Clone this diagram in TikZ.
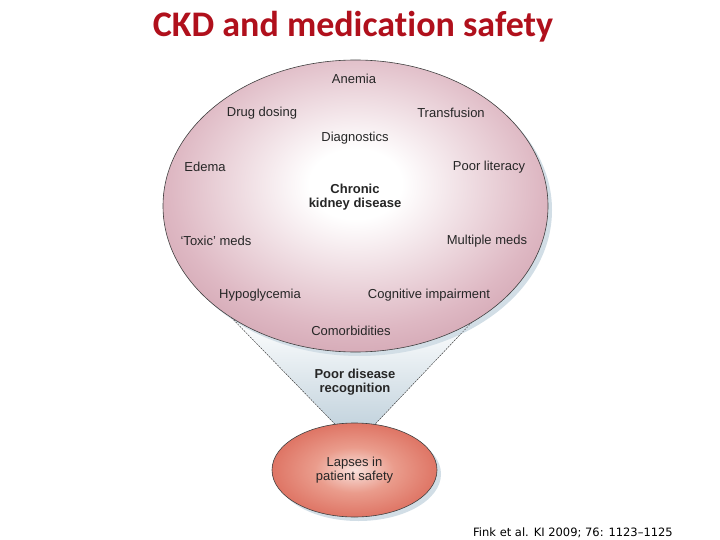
\documentclass[tikz,border=0pt]{standalone}
\usepackage{fontspec}
\setmainfont{Liberation Sans}
\newfontfamily\titlefont[Ligatures=NoCommon]{Carlito}
\newfontfamily\citefont{DejaVu Sans}
\usetikzlibrary{shapes.geometric,shadows,backgrounds}

\definecolor{titlered}{HTML}{B0101C}
\definecolor{ckdrim}{HTML}{A8667A}
\definecolor{ckdouter}{HTML}{C08898}
\definecolor{ckdmid}{HTML}{DEB8C3}
\definecolor{lapserim}{HTML}{CC4B3C}
\definecolor{lapseouter}{HTML}{DA6656}
\definecolor{lapsemid}{HTML}{EA9C8C}
\definecolor{shadowblue}{HTML}{D2DEE6}
\definecolor{funnelblue}{HTML}{C4D4DE}
\definecolor{inktext}{HTML}{262626}

\pgfdeclareradialshading{ckdshade}{\pgfpoint{0bp}{4bp}}{color(0bp)=(white); color(6bp)=(white); color(24bp)=(ckdmid); color(40bp)=(ckdouter); color(50bp)=(ckdrim); color(100bp)=(ckdrim)}
\pgfdeclareradialshading{lapseshade}{\pgfpoint{0bp}{0bp}}{color(0bp)=(white!70!lapsemid); color(12bp)=(lapsemid); color(30bp)=(lapseouter); color(50bp)=(lapserim); color(100bp)=(lapserim)}

\begin{document}
\begin{tikzpicture}[x=1pt,y=-1pt,
  factor/.style={font=\fontsize{13}{14}\selectfont, text=inktext, align=center},
  hub/.style={font=\fontsize{13}{14}\selectfont\bfseries, text=inktext, align=center},
  bubble/.style={ellipse, draw=black!75, line width=0.6pt, inner sep=0pt, outer sep=0pt,
    general shadow={fill=shadowblue, shadow xshift=4pt, shadow yshift=-4pt}},
  funnel/.style={dash pattern=on 1.5pt off 1.5pt, black!70, line width=0.5pt}]
\useasboundingbox (0,0) rectangle (720,540);
\node[font=\titlefont\fontsize{36}{40}\selectfont\bfseries, text=titlered] (title) at (353,27) {CKD and medication safety};

% the two bubbles
\node[bubble, shading=ckdshade, minimum width=385pt, minimum height=292pt] (ckd) at (355.5,206) {};
\node[bubble, shading=lapseshade, minimum width=165pt, minimum height=94pt, factor] (lapse) at (354.5,470) {Lapses in\\patient safety};

% funnel between them
\begin{scope}[on background layer]
\fill[top color=white, bottom color=funnelblue] (ckd.222) -- (lapse.113) -- (lapse.66) -- (ckd.315) -- cycle;
\end{scope}
\draw[funnel] (ckd.222) -- (lapse.113);
\draw[funnel] (ckd.315) -- (lapse.66);

\node[factor] (anemia) at (354,79) {Anemia};
\node[factor] (dosing) at (262,113) {Drug dosing};
\node[factor] (transfusion) at (451,113) {Transfusion};
\node[factor] (diagnostics) at (355,138) {Diagnostics};
\node[factor] (edema) at (205,167) {Edema};
\node[factor] (literacy) at (489,167) {Poor literacy};
\node[hub] (ckdname) at (355,197) {Chronic\\kidney disease};
\node[factor] (toxic) at (216,241) {`Toxic' meds};
\node[factor] (multiple) at (487,241) {Multiple meds};
\node[factor] (hypo) at (260,295) {Hypoglycemia};
\node[factor] (cognitive) at (429,295) {Cognitive impairment};
\node[factor] (comorb) at (351,331) {Comorbidities};
\node[hub] (recognition) at (355,382) {Poor disease\\recognition};

\node[font=\citefont\fontsize{11.5}{13}\selectfont] (cite) at (573,533) {Fink et al. KI 2009; 76: 1123–1125};
\end{tikzpicture}
\end{document}
